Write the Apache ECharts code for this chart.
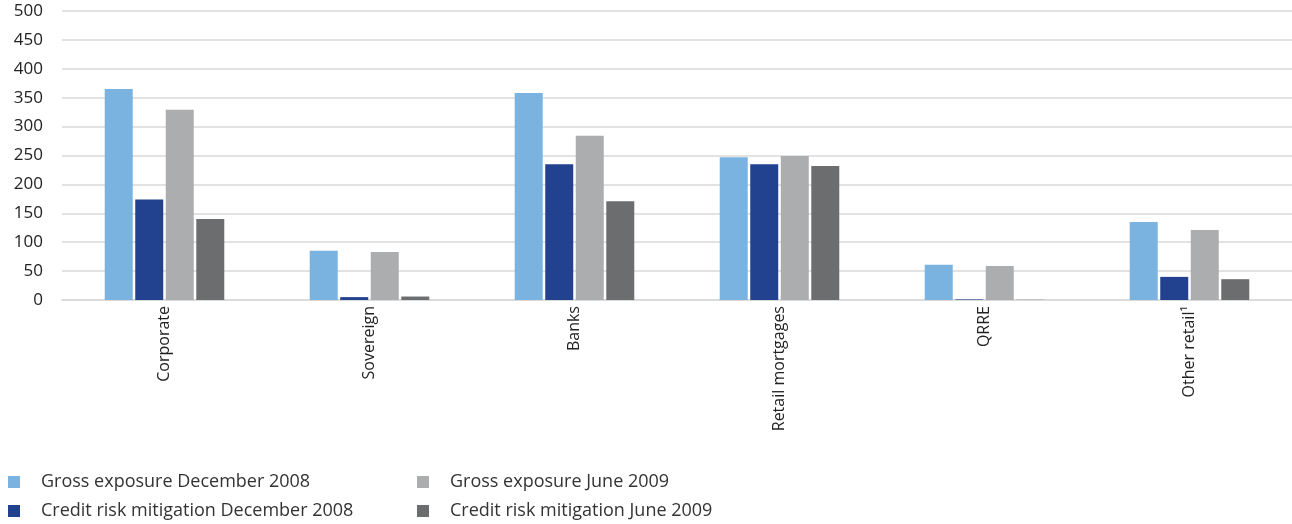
<!DOCTYPE html>
<html style="height: 100%">
  <head>
    <meta charset="utf-8" />
  </head>
  <body style="height: 100%; margin: 0; background: #fff">
    <div id="container" style="width: 1292px; height: 524px"></div>
    <script
      type="text/javascript"
      src="https://cdn.jsdelivr.net/npm/echarts@6.0.0/dist/echarts.min.js"
    ></script>

    <script type="text/javascript">
      var dom = document.getElementById("container");
      var myChart = echarts.init(dom);

      // categories and series values
      let categories = ["Corporate", "Sovereign", "Banks", "Retail mortgages", "QRRE", "Other retail¹"];
      let grossDec2008 = [365, 85, 358, 247, 61, 135];
      let crmDec2008 = [174, 5, 235, 235, 1, 40];
      let grossJun2009 = [329, 83, 284, 249, 59, 121];
      let crmJun2009 = [140, 6, 171, 232, 0.4, 36];
      let yTicks = [0, 50, 100, 150, 200, 250, 300, 350, 400, 450, 500];

      let font = "Open Sans";
      let colors = ["#7ab3df", "#22418e", "#acadaf", "#6c6d6f"];

      function bar(name, data, color) {
        return {
          name: name,
          type: "bar",
          data: data,
          barWidth: 28,
          barGap: "9%",
          itemStyle: { color: color },
        };
      }

      let legendText = {
        fontFamily: font,
        fontSize: 18,
        lineHeight: 18,
        color: "#333",
        padding: [0, 0, 0, 16],
      };

      function legendCol(left, names) {
        return {
          orient: "vertical",
          left: left,
          top: 473,
          padding: 0,
          itemWidth: 12,
          itemHeight: 12,
          itemGap: 11,
          icon: "rect",
          textStyle: legendText,
          data: names,
        };
      }

      let option = {
        animation: false,
        textStyle: { fontFamily: font },
        grid: { left: 62, right: 0, top: 11, bottom: 224 },
        legend: [
          legendCol(8, ["Gross exposure December 2008", "Credit risk mitigation December 2008"]),
          legendCol(417, ["Gross exposure June 2009", "Credit risk mitigation June 2009"]),
        ],
        xAxis: {
          type: "category",
          data: categories,
          axisTick: { show: false },
          axisLine: { lineStyle: { color: "#d9d9d9", width: 1.5 } },
          axisLabel: {
            rotate: 90,
            interval: 0,
            margin: 6,
            fontFamily: font,
            fontSize: 16,
            color: "#222",
          },
        },
        yAxis: {
          type: "value",
          min: yTicks[0],
          max: yTicks[yTicks.length - 1],
          interval: 50,
          axisLine: { show: false },
          axisTick: { show: false },
          splitLine: { lineStyle: { color: "#d9d9d9", width: 1.5 } },
          axisLabel: {
            margin: 19,
            fontFamily: font,
            fontSize: 17,
            color: "#222",
          },
        },
        series: [
          bar("Gross exposure December 2008", grossDec2008, colors[0]),
          bar("Credit risk mitigation December 2008", crmDec2008, colors[1]),
          bar("Gross exposure June 2009", grossJun2009, colors[2]),
          bar("Credit risk mitigation June 2009", crmJun2009, colors[3]),
        ],
      };

      myChart.setOption(option);
    </script>
  </body>
</html>
